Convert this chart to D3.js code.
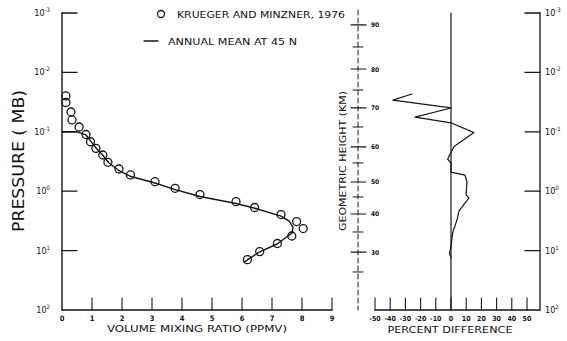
<!DOCTYPE html>
<html><head><meta charset="utf-8">
<script src="https://cdn.jsdelivr.net/npm/d3@7"></script>
<style>
html,body{margin:0;padding:0;background:#fff;}
svg{display:block;}
text{font-family:"DejaVu Sans Condensed","DejaVu Sans",sans-serif;fill:#111;}
</style></head><body>
<svg id="chart" width="567" height="341"></svg>
<script>
// Observed ozone volume mixing ratio (ppmv) vs pressure (mb), Krueger and Minzner 1976
const obsMixing   = [0.13,0.13,0.30,0.33,0.57,0.80,0.95,1.13,1.36,1.53,1.90,2.28,3.10,3.77,4.60,5.80,6.42,7.30,7.82,8.04,7.66,7.18,6.59,6.18];
const obsPressure = [0.0249,0.0321,0.0464,0.0632,0.083,0.111,0.147,0.190,0.246,0.326,0.423,0.533,0.692,0.893,1.14,1.50,1.88,2.47,3.24,4.25,5.68,7.59,10.4,14.2];

// Annual mean profile at 45 N
const meanMixing   = [0,0.5,0.8,0.97,1.15,1.37,1.55,1.87,2.3,3.1,3.77,4.6,5.8,6.4,7.3,7.57,7.7,7.67,7.17,6.57,6.07];
const meanPressure = [0.1,0.1,0.113,0.146,0.191,0.251,0.329,0.44,0.566,0.728,0.938,1.23,1.61,1.92,2.62,3.18,4.01,5.06,7.74,10.6,15.6];

// Percent difference vs geometric height (km)
const diffHeight  = [73.9,72.2,70.0,67.6,66.1,63.6,60.1,56.2,55.0,52.6,51.8,50.0,45.7,44.7,40.9,38.3,34.8,31.3,29.8,28.5];
const diffPercent = [-25.7,-38.2,0,-23.7,0,15.1,2.0,-2.2,0,0,9.2,10.5,9.9,11.8,5.3,3.9,1.1,0,-1.0,0];

// Geometric height scale, given as the pressure found at each height
const heightLevels   = [25,30,35,40,45,50,55,60,65,70,75,80,85,90];
const heightPressure = [22.9,10.6,4.86,2.42,1.25,0.70,0.335,0.180,0.083,0.0397,0.0198,0.00877,0.00373,0.00159];
const heightMajor = [30,40,50,60,70,80,90];
const heightMinor = [25,35,45,55,65,75,85];

// Tick values
const mixingTicks   = [0,1,2,3,4,5,6,7,8,9];
const pressureExp   = [-3,-2,-1,0,1,2];
const percentTicks  = [-50,-40,-30,-20,-10,0,10,20,30,40,50];

const svg = d3.select("#chart");
const ink = "#151515";

const x = d3.scaleLinear().domain([0,9]).range([62,332]);
const y = d3.scaleLog().domain([1e-3,1e2]).range([13,310]);
const xp = d3.scaleLinear().domain([-50,50]).range([375,527]);
const yh = d3.scaleLinear().domain(heightLevels).range(heightPressure.map(p => y(p)));

const g = svg.append("g").attr("stroke-linecap","round");

// ---------- left panel: mixing ratio ----------
// left pressure axis
g.append("line").attr("x1",x(0)).attr("x2",x(0)).attr("y1",y(1e-3)).attr("y2",y(1e2))
  .attr("stroke",ink).attr("stroke-width",1.4);
// bottom axis
g.append("line").attr("x1",x(0)).attr("x2",x(9)).attr("y1",y(1e2)).attr("y2",y(1e2))
  .attr("stroke",ink).attr("stroke-width",1.4);

pressureExp.forEach(e => {
  const py = y(Math.pow(10,e));
  if (e < 2) g.append("line").attr("x1",x(0)).attr("x2",x(0)+15).attr("y1",py).attr("y2",py)
      .attr("stroke",ink).attr("stroke-width",1.3);
  const t = svg.append("text").attr("x",50).attr("y",py+3).attr("text-anchor","end")
      .attr("font-size",9);
  t.append("tspan").text("10");
  t.append("tspan").attr("dy",-4).attr("font-size",6).text(e<0 ? "-"+(-e) : String(e));
});

mixingTicks.forEach(v => {
  if (v > 0) g.append("line").attr("x1",x(v)).attr("x2",x(v)).attr("y1",y(1e2)).attr("y2",y(1e2)-12)
      .attr("stroke",ink).attr("stroke-width",1.1);
  svg.append("text").attr("x",x(v)).attr("y",321).attr("text-anchor","middle")
     .attr("font-size",7.5).attr("font-weight","bold").text(v);
});

svg.append("text").attr("x",197).attr("y",332).attr("text-anchor","middle")
   .attr("font-size",9).attr("textLength",180).attr("lengthAdjust","spacingAndGlyphs")
   .text("VOLUME MIXING RATIO (PPMV)");

svg.append("text").attr("transform","translate(24,161) rotate(-90)").attr("text-anchor","middle")
   .attr("font-size",16).attr("textLength",142).attr("lengthAdjust","spacingAndGlyphs")
   .text("PRESSURE ( MB)");

// mean profile line
const meanLine = d3.line().x(d => x(d[0])).y(d => y(d[1]));
g.append("path").datum(d3.zip(meanMixing, meanPressure)).attr("d",meanLine)
  .attr("fill","none").attr("stroke",ink).attr("stroke-width",1.4).attr("stroke-linejoin","round");

// observed points
g.selectAll("circle.obs").data(d3.zip(obsMixing, obsPressure)).join("circle")
  .attr("class","obs").attr("cx",d => x(d[0])).attr("cy",d => y(d[1])).attr("r",4)
  .attr("fill","none").attr("stroke",ink).attr("stroke-width",1.3);

// legend
g.append("circle").attr("cx",161).attr("cy",14).attr("r",3.5).attr("fill","none")
  .attr("stroke",ink).attr("stroke-width",1.3);
svg.append("text").attr("x",177).attr("y",17.5).attr("font-size",9)
   .attr("textLength",168).attr("lengthAdjust","spacingAndGlyphs").text("KRUEGER AND MINZNER, 1976");
g.append("line").attr("x1",144).attr("x2",158).attr("y1",41).attr("y2",41)
  .attr("stroke",ink).attr("stroke-width",1.3);
svg.append("text").attr("x",168).attr("y",44.5).attr("font-size",9)
   .attr("textLength",129).attr("lengthAdjust","spacingAndGlyphs").text("ANNUAL MEAN AT 45 N");

// ---------- right panel: percent difference ----------
const hx = 358;
g.append("line").attr("x1",hx).attr("x2",hx).attr("y1",10).attr("y2",y(1e2))
  .attr("stroke",ink).attr("stroke-width",1).attr("stroke-dasharray","5,3");
heightMajor.forEach(h => {
  g.append("line").attr("x1",hx-7).attr("x2",hx+8).attr("y1",yh(h)).attr("y2",yh(h))
    .attr("stroke",ink).attr("stroke-width",1.2);
  svg.append("text").attr("x",hx+13).attr("y",yh(h)+2.5).attr("font-size",6.5)
     .attr("font-weight","bold").text(h);
});
heightMinor.forEach(h => {
  g.append("line").attr("x1",hx-5).attr("x2",hx+5).attr("y1",yh(h)).attr("y2",yh(h))
    .attr("stroke",ink).attr("stroke-width",1);
});
svg.append("text").attr("transform","translate(346,161) rotate(-90)").attr("text-anchor","middle")
   .attr("font-size",9).attr("textLength",140).attr("lengthAdjust","spacingAndGlyphs")
   .text("GEOMETRIC HEIGHT (KM)");

// zero reference line
g.append("line").attr("x1",xp(0)).attr("x2",xp(0)).attr("y1",y(1e-3)).attr("y2",y(1e2))
  .attr("stroke",ink).attr("stroke-width",1.2);

// bottom percent axis
const rx = 540;
g.append("line").attr("x1",xp(-50)).attr("x2",rx).attr("y1",y(1e2)).attr("y2",y(1e2))
  .attr("stroke",ink).attr("stroke-width",1.3);
percentTicks.forEach(v => {
  g.append("line").attr("x1",xp(v)).attr("x2",xp(v)).attr("y1",y(1e2)).attr("y2",y(1e2)-12)
    .attr("stroke",ink).attr("stroke-width",1.1);
  svg.append("text").attr("x",xp(v)).attr("y",321).attr("text-anchor","middle")
     .attr("font-size",7).attr("font-weight","bold").text(v);
});
svg.append("text").attr("x",450).attr("y",333).attr("text-anchor","middle")
   .attr("font-size",9.5).attr("textLength",125).attr("lengthAdjust","spacingAndGlyphs")
   .text("PERCENT DIFFERENCE");

// right pressure axis
g.append("line").attr("x1",rx).attr("x2",rx).attr("y1",y(1e-3)).attr("y2",y(1e2))
  .attr("stroke",ink).attr("stroke-width",1.3);
pressureExp.forEach(e => {
  const py = y(Math.pow(10,e));
  if (e < 2) g.append("line").attr("x1",rx-15).attr("x2",rx).attr("y1",py).attr("y2",py)
      .attr("stroke",ink).attr("stroke-width",1.3);
  const t = svg.append("text").attr("x",rx+5).attr("y",py+3).attr("font-size",9);
  t.append("tspan").text("10");
  t.append("tspan").attr("dy",-4).attr("font-size",6).text(e<0 ? "-"+(-e) : String(e));
});

// percent difference curve
const diffLine = d3.line().x(d => xp(d[1])).y(d => yh(d[0]));
g.append("path").datum(d3.zip(diffHeight, diffPercent)).attr("d",diffLine)
  .attr("fill","none").attr("stroke",ink).attr("stroke-width",1.2).attr("stroke-linejoin","round");
</script>
</body></html>
